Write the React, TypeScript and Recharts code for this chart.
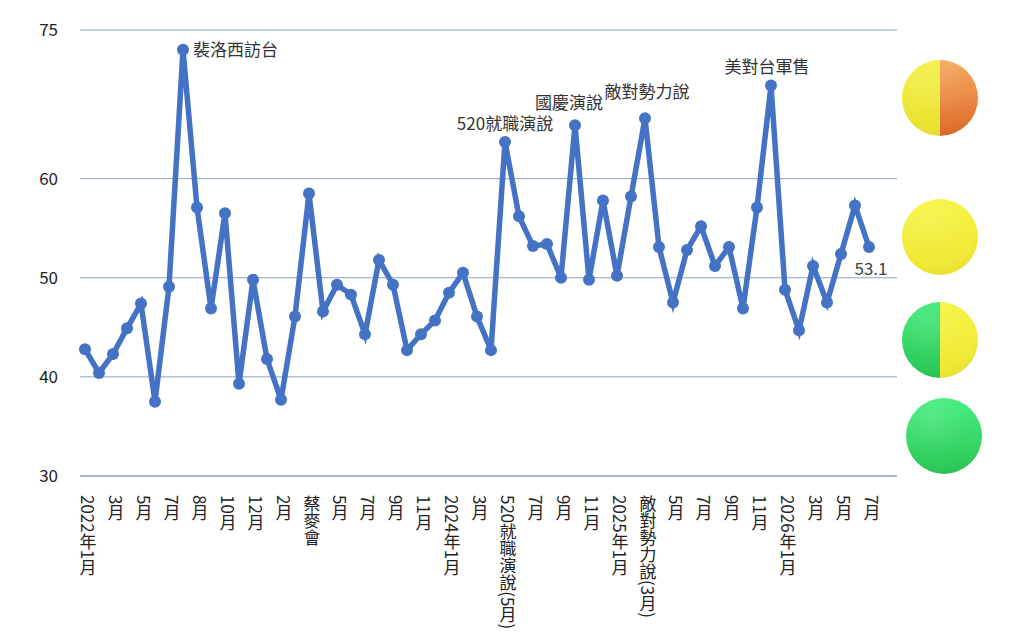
import React from "react";
import {
  LineChart,
  Line,
  XAxis,
  YAxis,
  CartesianGrid,
  LabelList,
} from "recharts";

// monthly index values, 2022/1 onward
const values = [
  42.8, 40.4, 42.3, 44.9, 47.4, 37.5, 49.1, 73.0, 57.1, 46.9,
  56.5, 39.3, 49.8, 41.8, 37.7, 46.1, 58.5, 46.6, 49.3, 48.3,
  44.3, 51.8, 49.3, 42.7, 44.3, 45.7, 48.5, 50.5, 46.1, 42.7,
  63.7, 56.2, 53.2, 53.4, 50.0, 65.4, 49.8, 57.8, 50.2, 58.2,
  66.1, 53.1, 47.5, 52.8, 55.2, 51.2, 53.1, 46.9, 57.1, 69.4,
  48.8, 44.7, 51.2, 47.5, 52.4, 57.3, 53.1,
];

// one label on every second point
const tickLabels = [
  "2022年1月", "3月", "5月", "7月", "8月", "10月", "12月", "2月", "蔡麥會",
  "5月", "7月", "9月", "11月", "2024年1月", "3月", "520就職演說(5月)", "7月",
  "9月", "11月", "2025年1月", "敵對勢力說(3月)", "5月", "7月", "9月", "11月",
  "2026年1月", "3月", "5月", "7月",
];

const yTicks = [30, 40, 50, 60, 75];

const eventIndex = [7, 30, 35, 40, 49];
const eventText = ["裴洛西訪台", "520就職演說", "國慶演說", "敵對勢力說", "美對台軍售"];

const data = values.map((v, i) => ({
  i,
  label: i % 2 === 0 ? tickLabels[i / 2] : "",
  v,
}));

const FONT = '"Noto Sans CJK TC", "Noto Sans", sans-serif';
const BLUE = "#4472C4";
const GRID = "#8DA3C0";

// label nudges (dx, dy) per event, in order of eventIndex
const eventNudge: [number, number][] = [
  [10, 6],
  [0, -12],
  [-6, -16],
  [2, -20],
  [-4, -13],
];

function VerticalTick(props: any) {
  const { x, y, payload } = props;
  const text = data[payload.value]?.label;
  if (!text) return null;
  return (
    <text
      x={x + 3}
      y={y + 11}
      fill="#222"
      fontSize={17}
      fontFamily={FONT}
      style={{ writingMode: "vertical-rl" }}
    >
      {text}
    </text>
  );
}

function EventLabel(props: any) {
  const { x, y, index, value } = props;
  const k = eventIndex.indexOf(index);
  if (k >= 0) {
    const [dx, dy] = eventNudge[k];
    return (
      <text
        x={x + dx}
        y={y + dy}
        fill="#333"
        fontSize={17}
        fontFamily={FONT}
        textAnchor={k === 0 ? "start" : "middle"}
      >
        {eventText[k]}
      </text>
    );
  }
  if (index === values.length - 1) {
    return (
      <text
        x={x + 2}
        y={y + 28}
        fill="#404040"
        fontSize={17}
        fontFamily={FONT}
        textAnchor="middle"
      >
        {Number(value).toFixed(1)}
      </text>
    );
  }
  return null;
}

function Ball({ top, left, c1, c2, d1, d2 }: any) {
  return (
    <div
      style={{
        position: "absolute",
        top,
        left,
        width: 76,
        height: 76,
        borderRadius: "50%",
        background: `radial-gradient(circle at 35% 28%, rgba(255,255,255,0.12), rgba(255,255,255,0) 50%),
          radial-gradient(circle at 42% 35%, rgba(0,0,0,0) 62%, rgba(0,0,0,0.08) 100%),
          linear-gradient(to bottom, ${c1}, ${c2}) left / 50% 100% no-repeat,
          linear-gradient(to bottom, ${d1}, ${d2}) right / 50% 100% no-repeat`,
      }}
    />
  );
}

export default function App() {
  return (
    <div
      style={{
        position: "absolute",
        left: 0,
        top: 0,
        width: 1024,
        height: 644,
        background: "#fff",
      }}
    >
      <LineChart
        width={1024}
        height={644}
        data={data}
        margin={{ top: 30, right: 127, bottom: 18, left: 0 }}
      >
        <CartesianGrid vertical={false} stroke={GRID} strokeWidth={1} />
        <XAxis
          dataKey="i"
          type="category"
          scale="point"
          interval={0}
          padding={{ left: 5, right: 28 }}
          height={150}
          axisLine={{ stroke: GRID }}
          tickLine={false}
          tick={<VerticalTick />}
        />
        <YAxis
          domain={[30, 75]}
          ticks={yTicks}
          width={80}
          axisLine={false}
          tickLine={false}
          tickSize={0}
          tickMargin={22}
          tick={{ fill: "#222", fontSize: 17, fontFamily: FONT }}
        />
        <Line
          type="linear"
          dataKey="v"
          stroke={BLUE}
          strokeWidth={5.5}
          dot={{ r: 6, fill: BLUE, stroke: "none" }}
          isAnimationActive={false}
        >
          <LabelList dataKey="v" content={<EventLabel />} />
        </Line>
      </LineChart>
      <Ball top={60} left={902} c1="#F4F040" c2="#E8E030" d1="#F5AA5E" d2="#DF6A2A" />
      <Ball top={199} left={902} c1="#F6F444" c2="#EEE632" d1="#F6F444" d2="#EEE632" />
      <Ball top={302} left={902} c1="#3EEA78" c2="#2BC556" d1="#F6F444" d2="#EEE632" />
      <Ball top={398} left={906} c1="#46EE7E" c2="#2CC658" d1="#46EE7E" d2="#2CC658" />
    </div>
  );
}
